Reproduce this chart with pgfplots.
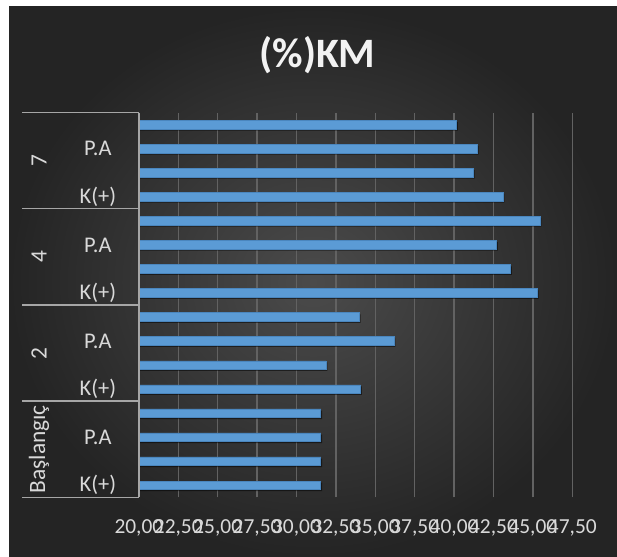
\documentclass[border=0pt]{standalone}
\usepackage{pgfplots}
\pgfplotsset{compat=1.18}
\usepackage{fontspec}
\setmainfont{Carlito}
\definecolor{barblue}{HTML}{5B9BD5}
\definecolor{baredge}{HTML}{4A86BE}
\definecolor{gridc}{HTML}{626262}
\definecolor{sepc}{HTML}{A6A6A6}
\definecolor{txt}{HTML}{D9D9D9}
\definecolor{bgin}{HTML}{4B4B4B}
\definecolor{bgout}{HTML}{242424}
\begin{document}
\begin{tikzpicture}[x=1bp,y=1bp]
\useasboundingbox (0,0) rectangle (617,557);
\fill[white] (0,0) rectangle (617,557);
\shade[inner color=bgin, outer color=bgout] (9,0) rectangle (617,550);
\node[font=\fontsize{42}{48}\selectfont\bfseries, text=white!95!black] at (317.5,502) {(\%)KM};
\begin{axis}[
  at={(138.9bp,59.7bp)}, anchor=south west,
  scale only axis, width=433.4bp, height=384.6bp,
  clip mode=individual,
  xbar, bar width=8.5bp,
  xmin=20, xmax=47.5,
  ymin=-0.5, ymax=15.5,
  xtick={20,22.5,25,27.5,30,32.5,35,37.5,40,42.5,45,47.5},
  ytick={0,1,2,3,4,5,6,7,8,9,10,11,12,13,14,15},
  yticklabels={K(+),{},P.A,{},K(+),{},P.A,{},K(+),{},P.A,{},K(+),{},P.A,{}},
  tick label style={text=txt},
  xticklabel style={anchor=center, yshift=-31bp, font=\fontsize{21.5}{24}\selectfont},
  yticklabel style={anchor=center, xshift=-41bp, font=\fontsize{22.5}{26}\selectfont},
  major tick length=0pt,
  axis line style={draw=none},
  xmajorgrids, major grid style={gridc, line width=1.4bp},
  /pgf/number format/fixed, /pgf/number format/fixed zerofill,
  /pgf/number format/precision=2, /pgf/number format/use comma,
  /pgf/number format/assume math mode=true,
]
\addplot[fill=barblue, draw=baredge, line width=0.6bp,
  preaction={fill=black, fill opacity=0.5, draw=none, transform canvas={xshift=1.3bp, yshift=-1.6bp}}] coordinates {
  (31.54,0) (31.54,1) (31.54,2) (31.54,3)
  (34.07,4) (31.87,5) (36.19,6) (33.99,7)
  (45.28,8) (43.59,9) (42.70,10) (45.45,11)
  (43.10,12) (41.22,13) (41.47,14) (40.16,15)
};
\draw[sepc, line width=1.3bp] (axis description cs:0,0) -- (axis description cs:0,1);
\draw[sepc, line width=1.3bp] (axis description cs:-0.2697,0) -- (axis description cs:0,0);
\draw[sepc, line width=1.3bp] (axis description cs:-0.2697,0.25) -- (axis description cs:0,0.25);
\draw[sepc, line width=1.3bp] (axis description cs:-0.2697,0.5) -- (axis description cs:0,0.5);
\draw[sepc, line width=1.3bp] (axis description cs:-0.2697,0.75) -- (axis description cs:0,0.75);
\draw[sepc, line width=1.3bp] (axis description cs:-0.2697,1) -- (axis description cs:0,1);
\node[rotate=90, text=txt, font=\fontsize{23.5}{26}\selectfont] at (axis description cs:-0.2305,0.125) {Başlangıç};
\node[rotate=90, text=txt, font=\fontsize{23.5}{26}\selectfont] at (axis description cs:-0.2305,0.375) {2};
\node[rotate=90, text=txt, font=\fontsize{23.5}{26}\selectfont] at (axis description cs:-0.2305,0.625) {4};
\node[rotate=90, text=txt, font=\fontsize{23.5}{26}\selectfont] at (axis description cs:-0.2305,0.875) {7};
\end{axis}
\end{tikzpicture}
\end{document}
